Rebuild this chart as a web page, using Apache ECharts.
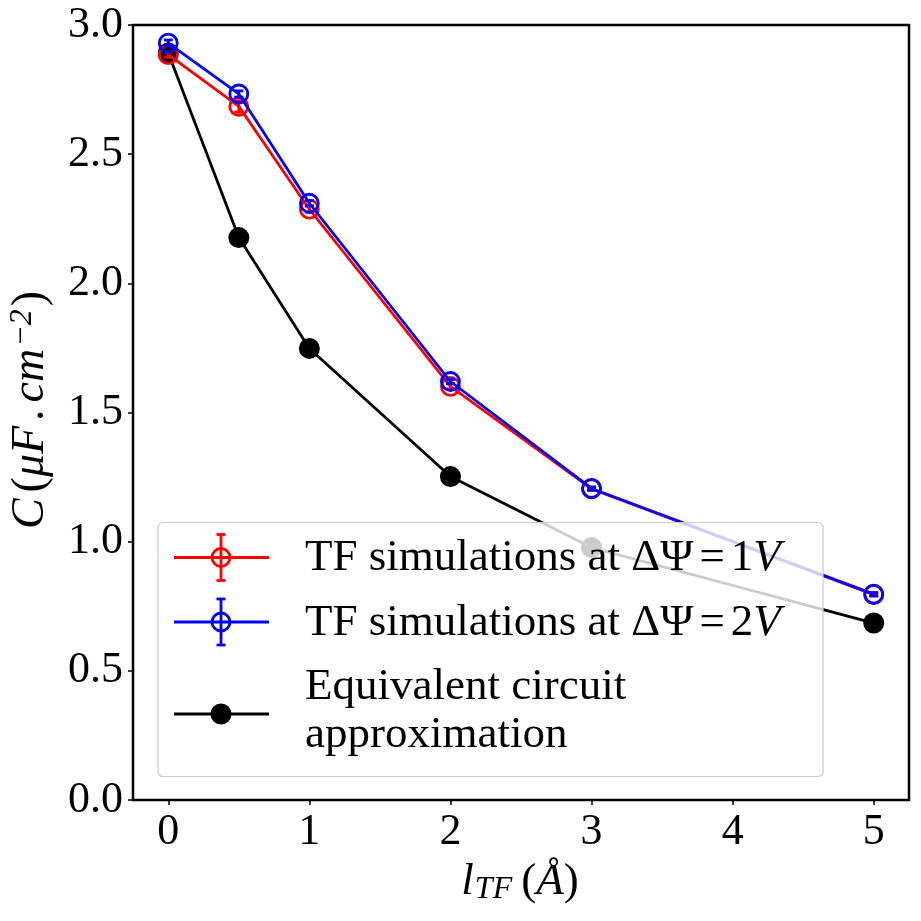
<!DOCTYPE html>
<html><head><meta charset="utf-8">
<script src="https://cdn.jsdelivr.net/npm/echarts@6/dist/echarts.min.js"></script>
<style>html,body{margin:0;padding:0;background:#fff}#c{width:921px;height:921px}</style>
</head><body><div id="c"></div>
<script>
// ---- data ----
const xValues  = [0, 0.5, 1, 2, 3, 5];
const tf1V     = [2.885, 2.685, 2.287, 1.601, 1.204, 0.795];
const tf1VErr  = [0.010, 0.022, 0.012, 0.010, 0.006, 0.006];
const tf2V     = [2.930, 2.733, 2.310, 1.620, 1.206, 0.797];
const tf2VErr  = [0.012, 0.012, 0.010, 0.008, 0.006, 0.006];
const circuit  = [2.892, 2.177, 1.748, 1.252, 0.977, 0.685];
const xTicks   = [0, 1, 2, 3, 4, 5];
const yTicks   = [0, 0.5, 1.0, 1.5, 2.0, 2.5, 3.0];
const seriesNames = ['TF simulations at ΔΨ = 1V', 'TF simulations at ΔΨ = 2V', 'Equivalent circuit approximation'];

const FONT = '"Liberation Serif", "DejaVu Serif", serif';
const RED = '#ff0000', BLUE = '#0000ff', BLACK = '#000000';
const LW = 2.8;

function pairs(xs, ys) { return xs.map((x, i) => [x, ys[i]]); }
function triples(xs, ys, es) { return xs.map((x, i) => [x, ys[i], es[i]]); }

function errRender(color) {
  return function (params, api) {
    const x = api.value(0), y = api.value(1), e = api.value(2);
    const t = api.coord([x, y + e]), b = api.coord([x, y - e]);
    const hw = 4.5;
    const st = { stroke: color, lineWidth: LW };
    return { type: 'group', children: [
      { type: 'line', shape: { x1: t[0], y1: t[1], x2: b[0], y2: b[1] }, style: st },
      { type: 'line', shape: { x1: t[0] - hw, y1: t[1], x2: t[0] + hw, y2: t[1] }, style: st },
      { type: 'line', shape: { x1: b[0] - hw, y1: b[1], x2: b[0] + hw, y2: b[1] }, style: st }
    ]};
  };
}

const chart = echarts.init(document.getElementById('c'), null, { renderer: 'canvas' });

const G = 100; // z for legend overlay
function legendHandle(y, color, kind) {
  const els = [
    { type: 'line', z: G + 1, shape: { x1: 174, y1: y, x2: 269, y2: y }, style: { stroke: color, lineWidth: LW } }
  ];
  if (kind === 'err') {
    els.push(
      { type: 'line', z: G + 1, shape: { x1: 221, y1: y - 23, x2: 221, y2: y + 23 }, style: { stroke: color, lineWidth: LW } },
      { type: 'line', z: G + 1, shape: { x1: 216.5, y1: y - 23, x2: 225.5, y2: y - 23 }, style: { stroke: color, lineWidth: LW } },
      { type: 'line', z: G + 1, shape: { x1: 216.5, y1: y + 23, x2: 225.5, y2: y + 23 }, style: { stroke: color, lineWidth: LW } },
      { type: 'circle', z: G + 2, shape: { cx: 221, cy: y, r: 9 }, style: { fill: 'none', stroke: color, lineWidth: LW } }
    );
  } else {
    els.push({ type: 'circle', z: G + 2, shape: { cx: 221, cy: y, r: 10.5 }, style: { fill: color } });
  }
  return els;
}
function mathLabel(base, num, italicTail) {
  return '{n|' + base + '}{n|ΔΨ}{eq|=}{n|' + num + '}{i|' + italicTail + '}';
}
const legendRich = {
  n: { fontFamily: FONT, fontSize: 45, color: '#000' },
  eq: { fontFamily: FONT, fontSize: 45, color: '#000', padding: [0, 6, 0, 6] },
  i: { fontFamily: FONT, fontSize: 45, fontStyle: 'italic', color: '#000' }
};

const option = {
  animation: false,
  backgroundColor: '#fff',
  grid: { left: 133, right: 12, top: 25, bottom: 121, show: true, borderColor: '#000', borderWidth: 2.5, backgroundColor: 'transparent' },
  xAxis: {
    type: 'value', min: -0.25, max: 5.25,
    axisLine: { show: false, onZero: false },
    axisTick: { show: true, length: 5, inside: false, lineStyle: { color: '#000', width: 1.5 }, customValues: xTicks },
    axisLabel: { customValues: xTicks, fontFamily: FONT, fontSize: 44, color: '#000', margin: 10, formatter: v => String(v) },
    splitLine: { show: false }
  },
  yAxis: {
    type: 'value', min: 0, max: 3, interval: 0.5,
    axisLine: { show: false, onZero: false },
    axisTick: { show: true, length: 5, lineStyle: { color: '#000', width: 1.5 }, customValues: yTicks },
    axisLabel: { customValues: yTicks, fontFamily: FONT, fontSize: 44, color: '#000', margin: 10, formatter: v => v.toFixed(1) },
    splitLine: { show: false }
  },
  series: [
    { name: seriesNames[2], type: 'line', data: pairs(xValues, circuit), symbol: 'circle', symbolSize: 21,
      lineStyle: { color: BLACK, width: LW }, itemStyle: { color: BLACK }, z: 2 },
    { name: seriesNames[0], type: 'line', data: pairs(xValues, tf1V), symbol: 'circle', symbolSize: 18,
      lineStyle: { color: RED, width: LW }, itemStyle: { color: 'rgba(0,0,0,0)', borderColor: RED, borderWidth: LW }, z: 3 },
    { type: 'custom', data: triples(xValues, tf1V, tf1VErr), renderItem: errRender(RED), z: 3 },
    { name: seriesNames[1], type: 'line', data: pairs(xValues, tf2V), symbol: 'circle', symbolSize: 18,
      lineStyle: { color: BLUE, width: LW }, itemStyle: { color: 'rgba(0,0,0,0)', borderColor: BLUE, borderWidth: LW }, z: 4 },
    { type: 'custom', data: triples(xValues, tf2V, tf2VErr), renderItem: errRender(BLUE), z: 4 }
  ],
  graphic: [
    // legend box
    { type: 'rect', z: G, shape: { x: 158, y: 522.5, width: 665, height: 254, r: 5 },
      style: { fill: 'rgba(255,255,255,0.8)', stroke: '#cccccc', lineWidth: 1.2 } },
    ...legendHandle(557.5, RED, 'err'),
    ...legendHandle(622, BLUE, 'err'),
    ...legendHandle(714, BLACK, 'dot'),
    { type: 'text', z: G + 3, x: 305, y: 558, style: { text: mathLabel('TF simulations at ', '1', 'V'), rich: legendRich, verticalAlign: 'middle', align: 'left' } },
    { type: 'text', z: G + 3, x: 305, y: 623, style: { text: mathLabel('TF simulations at ', '2', 'V'), rich: legendRich, verticalAlign: 'middle', align: 'left' } },
    { type: 'text', z: G + 3, x: 305, y: 687, style: { text: 'Equivalent circuit', font: '45px ' + FONT, fill: '#000', verticalAlign: 'middle', align: 'left' } },
    { type: 'text', z: G + 3, x: 305, y: 735, style: { text: 'approximation', font: '45px ' + FONT, fill: '#000', verticalAlign: 'middle', align: 'left' } },
    // axis titles
    { type: 'text', x: 520, y: 882, style: {
        text: '{i|l}{sub|TF}{n|(}{i|Å}{n|)}', align: 'center', verticalAlign: 'middle',
        rich: {
          i: { fontFamily: FONT, fontSize: 45, fontStyle: 'italic', color: '#000' },
          n: { fontFamily: FONT, fontSize: 45, color: '#000' },
          sub: { fontFamily: FONT, fontSize: 32, fontStyle: 'italic', color: '#000', verticalAlign: 'bottom', padding: [16, 9, 0, 1] }
        } } },
    { type: 'text', x: 31, y: 410, rotation: Math.PI / 2, style: {
        text: '{c|C}{n|(}{i|μF}{dot|.}{i|cm}{sup|−2}{n|)}', align: 'center', verticalAlign: 'middle',
        rich: {
          c: { fontFamily: FONT, fontSize: 46, fontStyle: 'italic', color: '#000', padding: [0, 6, 0, 0] },
          i: { fontFamily: FONT, fontSize: 46, fontStyle: 'italic', color: '#000' },
          dot: { fontFamily: FONT, fontSize: 46, fontStyle: 'italic', color: '#000', padding: [0, 6, 0, 6] },
          n: { fontFamily: FONT, fontSize: 46, color: '#000' },
          sup: { fontFamily: FONT, fontSize: 32, fontStyle: 'italic', color: '#000', verticalAlign: 'top', padding: [0, 3, 16, 2] }
        } } }
  ]
};
chart.setOption(option);
</script>
</body></html>
